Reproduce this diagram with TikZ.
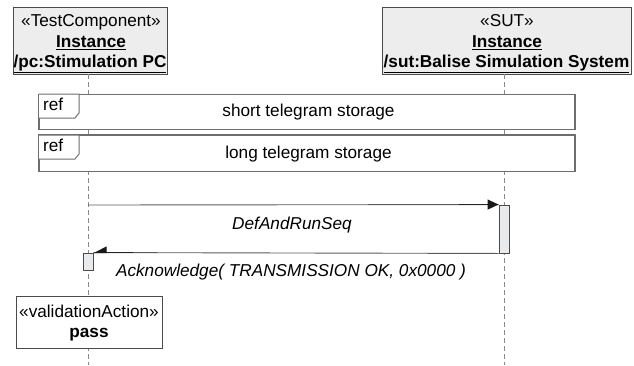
\documentclass[tikz,border=0pt]{standalone}
\usepackage{fontspec}
\setmainfont{Liberation Sans}
\usetikzlibrary{arrows.meta}

\definecolor{headfill}{HTML}{EDEDED}
\definecolor{actfill}{HTML}{E9EAEC}
\definecolor{edge}{HTML}{4A4A4A}
\definecolor{refedge}{HTML}{6E6E6E}
\definecolor{lifegray}{HTML}{8A8A8A}
\definecolor{msggray}{HTML}{5A5A5A}

\tikzset{
  txt/.style={font=\fontsize{17.2}{20}\selectfont, inner sep=0pt, anchor=base},
  headbox/.style={draw=edge, fill=headfill, line width=1pt, inner sep=0pt},
  framebox/.style={draw=refedge, fill=white, line width=1.2pt, inner sep=0pt},
  actbox/.style={draw=edge, fill=actfill, line width=0.9pt, inner sep=0pt,
                 minimum width=10pt},
  plainbox/.style={draw=edge, fill=white, line width=1pt, inner sep=0pt},
  lifeline/.style={draw=lifegray, line width=1pt, dash pattern=on 5pt off 3pt},
  msg/.style={draw=msggray, line width=0.9pt},
  msgdark/.style={draw=black!85, line width=1.1pt},
  synctip/.style={-{Triangle[length=11pt,width=10pt,color=black!90]}},
  asynctip/.style={-{Triangle[length=12pt,width=12pt,right,color=black!90]}},
}

\begin{document}
\begin{tikzpicture}[x=1pt,y=-1pt]
  \useasboundingbox (0,0) rectangle (634,365);

  % lifeline heads
  \node[headbox, minimum width=154pt, minimum height=67pt] (headPC) at (90,40.5) {};
  \node[txt] (pcSt)   at (91,26)  {«TestComponent»};
  \node[txt] (pcIn)   at (91,47.5){\bfseries\underline{Instance}};
  \node[txt] (pcName) at (90,67.5){\bfseries\underline{/pc:Stimulation PC}};

  \node[headbox, minimum width=249pt, minimum height=67pt] (headSUT) at (506.5,40.5) {};
  \node[txt] (sutSt)   at (507,26)  {«SUT»};
  \node[txt] (sutIn)   at (507,47.5){\bfseries\underline{Instance}};
  \node[txt] (sutName) at (506.5,67.5){\bfseries\underline{/sut:Balise Simulation System}};

  % lifeline anchors
  \coordinate (pcTop)  at (88,74);
  \coordinate (pcEnd)  at (88,365);
  \coordinate (sutTop) at (504,74);
  \coordinate (sutEnd) at (504,365);

  % lifelines
  \draw[lifeline] (pcTop) -- (pcEnd);
  \draw[lifeline] (sutTop) -- (sutEnd);

  % interaction uses
  \node[framebox, minimum width=536pt, minimum height=35.5pt] (ref1) at (307,112) {};
  \draw[refedge, line width=1pt, fill=white]
    (39,94) -- (79,94) -- (79,113) -- (75,118) -- (39,118);
  \node[txt, anchor=base west] (ref1tag) at (43,110.7) {ref};
  \node[txt] (ref1txt) at (308.5,116.7) {short telegram storage};

  \node[framebox, minimum width=536pt, minimum height=36.5pt] (ref2) at (307,153.3) {};
  \draw[refedge, line width=1pt, fill=white]
    (39,135) -- (79,135) -- (79,154) -- (75,159) -- (39,159);
  \node[txt, anchor=base west] (ref2tag) at (43,151.7) {ref};
  \node[txt] (ref2txt) at (308.5,158.3) {long telegram storage};

  % execution specifications
  \node[actbox, minimum height=48pt] (actSUT) at (504,229) {};
  \node[actbox, minimum height=17pt] (actPC)  at (88,261.5) {};

  % messages
  \coordinate (m1start) at (88,205);
  \draw[msg] (m1start) -- (actSUT.north west);
  \draw[msgdark, synctip] ([xshift=-40pt]actSUT.north west) -- (actSUT.north west);
  \node[txt] (m1) at (292,229) {\itshape DefAndRunSeq};

  \draw[msg] (actSUT.south west) -- (actPC.north east);
  \draw[msgdark, asynctip] ([xshift=40pt]actPC.north east) -- (actPC.north east);
  \node[txt] (m2) at (291,276.5) {\itshape Acknowledge( TRANSMISSION OK, 0x0000 )};

  % verdict
  \node[plainbox, minimum width=146pt, minimum height=52pt] (verdict) at (89,322) {};
  \node[txt] (vSt)   at (89,317.3) {«validationAction»};
  \node[txt] (vPass) at (89,337.3) {\bfseries pass};
\end{tikzpicture}
\end{document}
